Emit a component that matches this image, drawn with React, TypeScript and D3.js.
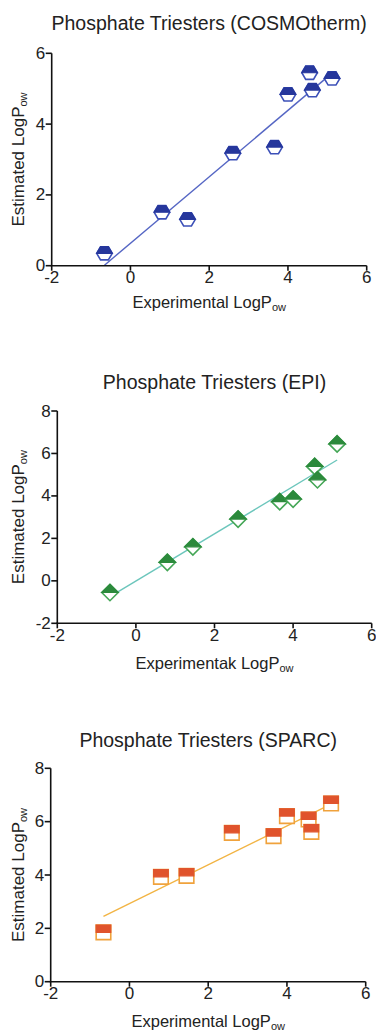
import React from 'react';
import * as d3 from 'd3';

// ---- data ----
const experimental = [-0.66, 0.8, 1.45, 2.6, 3.66, 4.0, 4.55, 4.62, 5.12];
const cosmoEstimated = [0.35, 1.51, 1.31, 3.18, 3.35, 4.84, 5.45, 4.96, 5.29];
const epiEstimated = [-0.55, 0.87, 1.6, 2.91, 3.73, 3.85, 5.39, 4.76, 6.45];
const sparcEstimated = [1.85, 3.93, 3.97, 5.58, 5.46, 6.21, 6.08, 5.62, 6.68];
const xTicks = [-2, 0, 2, 4, 6];
const cosmoYTicks = [0, 2, 4, 6];
const epiYTicks = [-2, 0, 2, 4, 6, 8];
const sparcYTicks = [0, 2, 4, 6, 8];
const titles = [
  'Phosphate Triesters (COSMOtherm)',
  'Phosphate Triesters (EPI)',
  'Phosphate Triesters (SPARC)',
];
const xLabels = ['Experimental LogP', 'Experimentak LogP', 'Experimental LogP'];
const yLabel = 'Estimated LogP';
const sub = 'ow';

type Shape = 'hex' | 'diamond' | 'square';

interface Panel {
  title: string;
  xLabel: string;
  y: number[];
  yTicks: number[];
  yDomain: [number, number];
  x0: number; x1: number; yTop: number; yBottom: number;
  titleY: number; xLabelY: number;
  shape: Shape; fill: string; stroke: string; line: string;
}

const panels: Panel[] = [
  { title: titles[0], xLabel: xLabels[0], y: cosmoEstimated, yTicks: cosmoYTicks, yDomain: [0, 6],
    x0: 51.7, x1: 366.7, yTop: 53.3, yBottom: 265.7, titleY: 23, xLabelY: 302,
    shape: 'hex', fill: '#26379c', stroke: '#3c50b8', line: '#5566c4' },
  { title: titles[1], xLabel: xLabels[1], y: epiEstimated, yTicks: epiYTicks, yDomain: [-2, 8],
    x0: 57.3, x1: 371.7, yTop: 411, yBottom: 623.3, titleY: 381.5, xLabelY: 663,
    shape: 'diamond', fill: '#2c8a3c', stroke: '#44a656', line: '#6cc6bc' },
  { title: titles[2], xLabel: xLabels[2], y: sparcEstimated, yTicks: sparcYTicks, yDomain: [0, 8],
    x0: 50.7, x1: 365.7, yTop: 768.3, yBottom: 981.7, titleY: 740, xLabelY: 1020.5,
    shape: 'square', fill: '#e0532c', stroke: '#f0a23c', line: '#f2b444' },
];

const FONT = '"Liberation Sans", Arial, Helvetica, sans-serif';

function fit(xs: number[], ys: number[]) {
  const mx = d3.mean(xs)!;
  const my = d3.mean(ys)!;
  let sxy = 0, sxx = 0;
  xs.forEach((x, i) => { sxy += (x - mx) * (ys[i] - my); sxx += (x - mx) * (x - mx); });
  const slope = sxy / sxx;
  return { slope, intercept: my - slope * mx };
}

function Marker({ shape, cx, cy, fill, stroke }: { shape: Shape; cx: number; cy: number; fill: string; stroke: string }) {
  let full = '';
  let top = '';
  if (shape === 'hex') {
    const a = 7.8, h = 6.6;
    full = `M${-a},0L${-a / 2},${-h}L${a / 2},${-h}L${a},0L${a / 2},${h}L${-a / 2},${h}Z`;
    top = `M${-a},0L${-a / 2},${-h}L${a / 2},${-h}L${a},0Z`;
  } else if (shape === 'diamond') {
    const r = 8.2;
    full = `M0,${-r}L${r},0L0,${r}L${-r},0Z`;
    top = `M${-r},0L0,${-r}L${r},0Z`;
  } else {
    const s = 7.3;
    full = `M${-s},${-s}L${s},${-s}L${s},${s}L${-s},${s}Z`;
    top = `M${-s},${-s}L${s},${-s}L${s},0L${-s},0Z`;
  }
  return (
    <g transform={`translate(${cx},${cy})`}>
      <path d={full} fill="#fff" stroke={stroke} strokeWidth={1.6} />
      <path d={top} fill={fill} stroke={fill} strokeWidth={1.2} />
    </g>
  );
}

function PanelView({ p }: { p: Panel }) {
  const x = d3.scaleLinear().domain([-2, 6]).range([p.x0, p.x1]);
  const y = d3.scaleLinear().domain(p.yDomain).range([p.yBottom, p.yTop]);
  const { slope, intercept } = fit(experimental, p.y);
  const xmin = d3.min(experimental)!;
  const xmax = d3.max(experimental)!;
  const line = d3.line<number>().x(d => x(d)).y(d => y(slope * d + intercept));
  const cx = (p.x0 + p.x1) / 2;
  const cyMid = (p.yTop + p.yBottom) / 2;
  return (
    <g fontFamily={FONT} fill="#222">
      <text x={cx} y={p.titleY} textAnchor="middle" dominantBaseline="central" fontSize={19.5}>{p.title}</text>
      {/* regression */}
      <path d={line([xmin, xmax]) || ''} fill="none" stroke={p.line} strokeWidth={1.4} />
      {/* axes */}
      <line x1={p.x0 - 1} x2={p.x1} y1={p.yBottom} y2={p.yBottom} stroke="#111" strokeWidth={1.6} />
      <line x1={p.x0} x2={p.x0} y1={p.yTop} y2={p.yBottom} stroke="#111" strokeWidth={1.6} />
      {xTicks.map(t => (
        <g key={'x' + t}>
          <line x1={x(t)} x2={x(t)} y1={p.yBottom} y2={p.yBottom + 5} stroke="#111" strokeWidth={1.6} />
          <text x={x(t)} y={p.yBottom + 12} textAnchor="middle" dominantBaseline="central" fontSize={17}>{t}</text>
        </g>
      ))}
      {p.yTicks.map(t => (
        <g key={'y' + t}>
          <line x1={p.x0 - 6} x2={p.x0} y1={y(t)} y2={y(t)} stroke="#111" strokeWidth={1.6} />
          <text x={p.x0 - 6.5} y={y(t)} textAnchor="end" dominantBaseline="central" fontSize={17}>{t}</text>
        </g>
      ))}
      {/* labels */}
      <text x={cx} y={p.xLabelY} textAnchor="middle" dominantBaseline="central" fontSize={16.5}>
        {p.xLabel}<tspan fontSize={11} dy={5}>{sub}</tspan>
      </text>
      <text transform={`translate(18,${cyMid}) rotate(-90)`} textAnchor="middle" dominantBaseline="central" fontSize={17}>
        {yLabel}<tspan fontSize={11} dy={5}>{sub}</tspan>
      </text>
      {/* markers */}
      {experimental.map((xv, i) => (
        <Marker key={i} shape={p.shape} cx={x(xv)} cy={y(p.y[i])} fill={p.fill} stroke={p.stroke} />
      ))}
    </g>
  );
}

export default function App() {
  return (
    <svg width={376} height={1030} style={{ position: 'absolute', left: 0, top: 0, background: '#fff' }}>
      <rect width={376} height={1030} fill="#fff" />
      {panels.map((p, i) => <PanelView key={i} p={p} />)}
    </svg>
  );
}
